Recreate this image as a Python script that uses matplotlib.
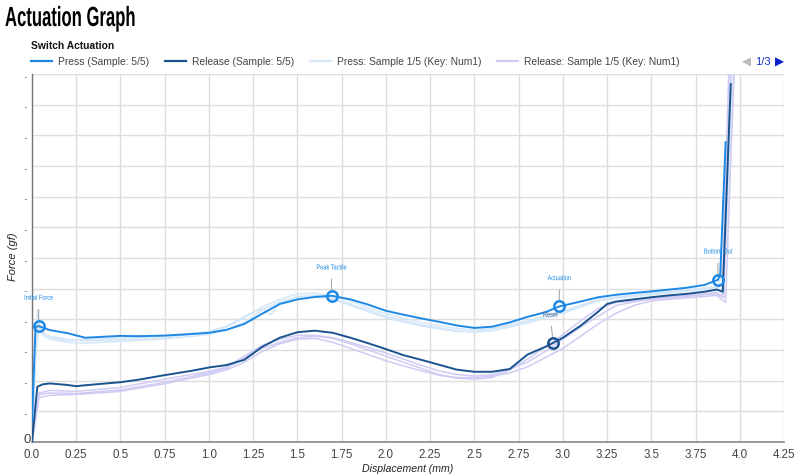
import matplotlib
matplotlib.use("Agg")
import matplotlib.pyplot as plt
from matplotlib.lines import Line2D
from matplotlib.patheffects import AbstractPathEffect
from matplotlib.transforms import Affine2D

# ---------------- data ----------------
press_x = [0, 0.02, 0.038, 0.1, 0.2, 0.3, 0.4, 0.5, 0.6, 0.75, 0.9, 1.0, 1.1, 1.2, 1.3, 1.4,
           1.5, 1.6, 1.693, 1.8, 1.9, 2.0, 2.1, 2.2, 2.3, 2.4, 2.5, 2.6, 2.7, 2.8, 2.9, 2.98,
           3.1, 3.2, 3.3, 3.4, 3.5, 3.6, 3.7, 3.8, 3.877, 3.89, 3.92]
press_y = [6.9, 37.5, 37.8, 36.5, 35.5, 34.0, 34.3, 34.6, 34.5, 34.7, 35.2, 35.6, 36.6, 38.5, 41.8, 45.0,
           46.5, 47.3, 47.7, 46.5, 44.8, 42.8, 41.5, 40.3, 39.2, 38.0, 37.2, 37.6, 39.0, 40.8, 42.3, 44.2,
           45.8, 47.2, 48.0, 48.6, 49.1, 49.7, 50.3, 51.2, 52.9, 55.0, 97.8]

release_x = [0, 0.03, 0.06, 0.1, 0.2, 0.25, 0.3, 0.4, 0.5, 0.6, 0.75, 0.9, 1.0, 1.1, 1.2, 1.3,
             1.4, 1.5, 1.6, 1.7, 1.8, 1.9, 2.0, 2.1, 2.2, 2.3, 2.4, 2.5, 2.6, 2.7, 2.8, 2.9,
             2.945, 3.0, 3.1, 3.2, 3.25, 3.3, 3.4, 3.5, 3.6, 3.7, 3.8, 3.87, 3.904, 3.949]
release_y = [0, 18.0, 18.8, 19.1, 18.6, 18.2, 18.5, 19.0, 19.5, 20.3, 21.8, 23.2, 24.3, 25.1, 26.8, 31.0,
             34.0, 35.8, 36.3, 35.6, 34.0, 32.2, 30.3, 28.3, 26.8, 25.2, 23.6, 22.9, 22.9, 23.8, 28.5, 31.0,
             32.3, 34.0, 37.9, 42.5, 45.0, 45.8, 46.5, 47.2, 47.8, 48.3, 49.0, 49.7, 49.0, 116.7]

# other press samples (light)
ps1_x = [0, 0.015, 0.03, 0.05, 0.1, 0.2, 0.3, 0.5, 0.75, 1.0, 1.1, 1.2, 1.3, 1.4, 1.5, 1.6, 1.7, 1.8,
         1.9, 2.0, 2.2, 2.4, 2.5, 2.6, 2.8, 3.0, 3.2, 3.4, 3.6, 3.8, 3.88, 3.91, 3.95]
ps1_y = [0, 20, 43, 36, 34.5, 33.5, 33.0, 33.2, 34.0, 35.8, 37.5, 40.5, 44.0, 46.5, 48.3, 48.5, 47.5, 46.0,
         43.8, 41.8, 39.0, 37.0, 36.5, 37.0, 39.5, 42.5, 46.5, 48.0, 49.0, 50.2, 50.8, 60, 125]
ps2_x = [0, 0.02, 0.035, 0.06, 0.1, 0.2, 0.3, 0.5, 0.75, 1.0, 1.1, 1.2, 1.3, 1.4, 1.5, 1.6, 1.7, 1.8,
         1.9, 2.0, 2.2, 2.4, 2.5, 2.6, 2.8, 3.0, 3.2, 3.4, 3.6, 3.8, 3.88, 3.92, 3.96]
ps2_y = [0, 30, 40, 35, 33.5, 32.5, 32.2, 32.8, 33.6, 35.0, 36.5, 39.0, 43.0, 45.8, 47.2, 47.8, 46.8, 45.0,
         43.0, 41.0, 38.2, 36.3, 35.8, 36.2, 38.8, 42.0, 46.0, 47.8, 48.8, 50.0, 50.5, 62, 125]
ps3_x = [0, 0.02, 0.04, 0.07, 0.1, 0.2, 0.3, 0.5, 0.75, 1.0, 1.1, 1.2, 1.3, 1.35, 1.4, 1.5, 1.6, 1.7,
         1.8, 1.9, 2.0, 2.2, 2.4, 2.5, 2.6, 2.8, 3.0, 3.2, 3.4, 3.6, 3.8, 3.88, 3.93, 3.97]
ps3_y = [0, 28, 38, 34.5, 34.0, 33.0, 33.5, 33.8, 34.5, 36.0, 37.8, 41.0, 43.5, 41.5, 45.5, 47.5, 47.5, 46.5,
         44.5, 42.5, 40.5, 37.8, 36.0, 36.0, 36.8, 39.2, 42.8, 46.3, 47.5, 48.5, 49.8, 50.3, 65, 125]

# other release samples (light)
rs1_x = [0, 0.04, 0.1, 0.25, 0.5, 0.75, 1.0, 1.1, 1.2, 1.3, 1.4, 1.5, 1.6, 1.7, 1.8, 1.9, 2.0, 2.1,
         2.2, 2.3, 2.4, 2.5, 2.6, 2.7, 2.8, 2.9, 3.0, 3.1, 3.2, 3.3, 3.5, 3.7, 3.87, 3.91, 3.95]
rs1_y = [0, 15.5, 16.0, 15.8, 17.0, 19.5, 22.5, 24.0, 27.5, 30.5, 32.5, 34.0, 34.5, 33.8, 32.0, 30.0, 28.0, 26.0,
         24.0, 22.0, 20.8, 20.5, 21.0, 23.5, 27.0, 31.0, 35.0, 39.5, 43.5, 45.5, 46.5, 47.5, 48.3, 47.0, 125]
rs2_x = [0, 0.04, 0.1, 0.25, 0.5, 0.75, 1.0, 1.1, 1.2, 1.3, 1.4, 1.5, 1.6, 1.7, 1.8, 1.9, 2.0, 2.1,
         2.2, 2.3, 2.4, 2.5, 2.6, 2.7, 2.8, 2.9, 3.0, 3.1, 3.2, 3.3, 3.4, 3.5, 3.7, 3.87, 3.92, 3.97]
rs2_y = [0, 14.5, 15.2, 15.5, 16.5, 19.0, 22.0, 23.5, 26.0, 29.5, 32.0, 33.5, 33.8, 32.5, 30.5, 28.5, 26.5, 24.8,
         23.2, 21.8, 21.0, 21.0, 21.5, 22.5, 24.5, 27.5, 30.5, 34.5, 38.5, 42.0, 44.5, 46.0, 47.0, 47.8, 45.5, 125]
rs3_x = [0, 0.04, 0.1, 0.25, 0.5, 0.75, 1.0, 1.1, 1.2, 1.3, 1.4, 1.5, 1.6, 1.7, 1.8, 1.9, 2.0, 2.1,
         2.2, 2.3, 2.4, 2.5, 2.6, 2.7, 2.8, 2.9, 3.0, 3.1, 3.2, 3.3, 3.5, 3.7, 3.87, 3.9, 3.94]
rs3_y = [0, 16.0, 16.8, 16.5, 17.8, 20.5, 23.0, 24.5, 28.0, 31.5, 33.5, 34.8, 34.8, 34.0, 32.5, 30.8, 29.0, 27.0,
         25.0, 23.2, 22.0, 21.5, 22.0, 23.8, 26.0, 29.5, 33.5, 37.5, 41.0, 44.5, 46.8, 47.8, 48.8, 47.5, 125]

marker_names = ["Initial Force", "Peak Tactile", "Actuation", "Reset", "Bottom Out"]
marker_x = [0.038, 1.693, 2.98, 2.945, 3.877]
marker_y = [37.8, 47.7, 44.2, 32.3, 52.9]
marker_series = ["press", "press", "press", "release", "press"]

x_ticks = [0.0, 0.25, 0.5, 0.75, 1.0, 1.25, 1.5, 1.75, 2.0, 2.25, 2.5, 2.75, 3.0, 3.25, 3.5, 3.75, 4.0, 4.25]
x_tick_labels = ["0.0", "0.25", "0.5", "0.75", "1.0", "1.25", "1.5", "1.75", "2.0", "2.25", "2.5",
                 "2.75", "3.0", "3.25", "3.5", "3.75", "4.0", "4.25"]
y_ticks = [0, 10, 20, 30, 40, 50, 60, 70, 80, 90, 100, 110, 120]
y_tick_labels = ["0"] + [".."] * 12

legend_labels = ["Press (Sample: 5/5)", "Release (Sample: 5/5)",
                 "Press: Sample 1/5 (Key: Num1)", "Release: Sample 1/5 (Key: Num1)"]

# ---------------- style ----------------
C_PRESS = "#1E88E5"
C_RELEASE = "#1A5490"
C_LPRESS = "#D4E8FA"
C_LRELEASE = "#CFCBF4"


class Squeeze(AbstractPathEffect):
    """Horizontally condense rendered text (around a fixed x, or its own centre)."""
    def __init__(self, sx, x0=None):
        super().__init__()
        self.sx = sx
        self.x0 = x0

    def draw_path(self, renderer, gc, tpath, affine, rgbFace=None):
        x0 = self.x0
        if x0 is None:
            bb = tpath.get_extents(affine)
            x0 = 0.5 * (bb.x0 + bb.x1)
        t = affine + Affine2D().translate(-x0, 0).scale(self.sx, 1).translate(x0, 0)
        renderer.draw_path(gc, tpath, t, rgbFace)


plt.rcParams["font.family"] = ["Liberation Sans", "DejaVu Sans"]

W, H = 800, 477
fig = plt.figure(figsize=(8.0, 4.77), dpi=100)
ax = fig.add_axes([32 / W, 1 - 443 / H, (784 - 32) / W, (443 - 75) / H])

for xs, ys in [(ps1_x, ps1_y), (ps2_x, ps2_y), (ps3_x, ps3_y)]:
    ax.plot(xs, ys, color=C_LPRESS, lw=1.1, zorder=2)
for xs, ys in [(rs1_x, rs1_y), (rs2_x, rs2_y), (rs3_x, rs3_y)]:
    ax.plot(xs, ys, color=C_LRELEASE, lw=1.1, zorder=2)
ax.plot(press_x, press_y, color=C_PRESS, lw=1.4, zorder=4)
ax.plot(release_x, release_y, color=C_RELEASE, lw=1.4, zorder=4)

for name, mx, my, ser in zip(marker_names, marker_x, marker_y, marker_series):
    col = C_PRESS if ser == "press" else C_RELEASE
    tcol = C_PRESS if ser == "press" else "#3D5A80"
    dx = -2 if name == "Reset" else 0
    ax.plot([mx], [my], "o", ms=7.5, mfc="none", mec=col, mew=1.8, zorder=6)
    ann = ax.annotate(name, xy=(mx, my), xytext=(dx, 20), textcoords="offset points",
                      ha="center", va="center", fontsize=5.2, color=tcol,
                      arrowprops=dict(arrowstyle="-", color="#9E9E9E", lw=0.7,
                                      shrinkA=3.5, shrinkB=4.5),
                      zorder=7)
    ann.set_path_effects([Squeeze(0.78)])

ax.set_xlim(0, 4.25)
ax.set_ylim(0, 120)
ax.set_xticks(x_ticks)
ax.set_xticklabels(x_tick_labels)
ax.set_yticks(y_ticks)
ax.set_yticklabels([""] + y_tick_labels[1:])
for lab in ax.get_yticklabels():
    lab.set_fontsize(6)
ax.tick_params(axis="x", length=0, pad=4, labelsize=8.3, labelcolor="#444444")
ax.tick_params(axis="y", length=0, pad=3, labelcolor="#444444")
ax.grid(True, color="#DDDDDD", lw=1.0)
ax.set_axisbelow(True)
for s in ["top", "right"]:
    ax.spines[s].set_visible(False)
ax.spines["left"].set_color("#777777")
ax.spines["bottom"].set_color("#888888")
ax.spines["left"].set_linewidth(1.0)
ax.spines["bottom"].set_linewidth(1.2)

# the "0" y tick label, drawn a little above the axis line as in the reference
fig.text(27 / W, 1 - 440 / H, y_tick_labels[0], fontsize=9.5, color="#444444",
         ha="center", va="center")

fig.text(408 / W, 1 - 469 / H, "Displacement (mm)", fontsize=7.6, style="italic",
         color="#222222", ha="center", va="center")
fig.text(13 / W, 1 - 257 / H, "Force (gf)", fontsize=8, style="italic", rotation=90,
         color="#222222", ha="center", va="center")

# ---------------- titles & legend ----------------
title = fig.text(5 / W, 1 - 27 / H, "Actuation Graph", fontsize=20, fontweight="bold",
                 va="baseline", ha="left", color="#000000")
title.set_path_effects([Squeeze(0.6, 5)])
fig.text(31 / W, 1 - 46 / H, "Switch Actuation", fontsize=7.4, fontweight="bold",
         va="center", ha="left", color="#111111")

leg_x = [31, 165, 310, 497]
leg_cols = [C_PRESS, C_RELEASE, C_LPRESS, C_LRELEASE]
ly = 1 - 62 / H
for lx, col, lab in zip(leg_x, leg_cols, legend_labels):
    fig.add_artist(Line2D([lx / W, (lx + 21) / W], [ly, ly], color=col, lw=1.6))
    fig.text((lx + 27) / W, ly, lab, fontsize=7.4, color="#444444", va="center", ha="left")

fig.text(746 / W, ly, "\u25C0", fontsize=8.5, color="#BBBBBB", va="center", ha="center",
         family=["DejaVu Sans"])
fig.text(763 / W, ly, "1/3", fontsize=8, color="#1A33CC", va="center", ha="center")
fig.text(779 / W, ly, "\u25B6", fontsize=8.5, color="#0A1FCC", va="center", ha="center",
         family=["DejaVu Sans"])

fig.savefig("out.png", dpi=100)
